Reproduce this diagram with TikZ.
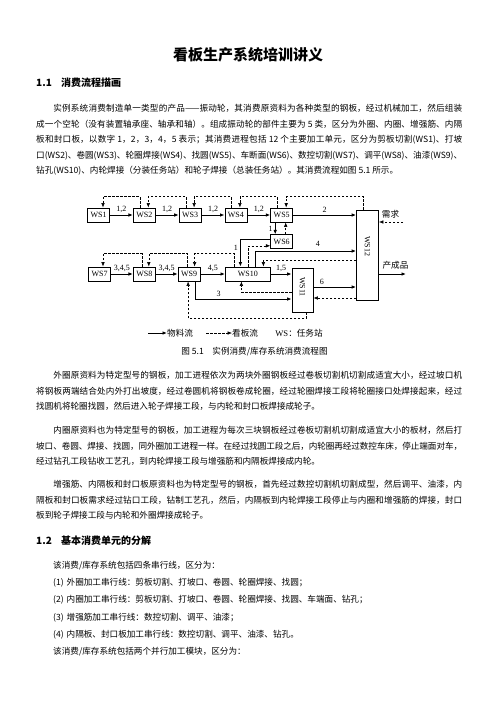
\documentclass[tikz,border=0pt]{standalone}
\usepackage{fontspec}
\setmainfont{Liberation Serif}
\newfontfamily\cjk{Noto Sans CJK SC}
\usetikzlibrary{arrows.meta,positioning}
\XeTeXlinebreaklocale "zh"
\XeTeXlinebreakskip=0pt plus 1pt minus 0.3pt
\newcommand*{\bodyfont}{\cjk\fontsize{8.6}{15.5}\selectfont}

\begin{document}
\begin{tikzpicture}[x=1pt, y=-1pt, auto, >={Latex[length=4.5pt,width=3.6pt]},
  station/.style={draw, line width=0.8pt, minimum width=22pt, minimum height=14pt, inner sep=0pt, font=\fontsize{8}{9}\selectfont},
  flow/.style={->, line width=1pt},
  kanban/.style={->, line width=0.6pt, dash pattern=on 2.5pt off 1.5pt},
  num/.style={font=\fontsize{8}{9}\selectfont, inner sep=2pt},
  zh/.style={font=\cjk\fontsize{8.6}{10}\selectfont, inner sep=0pt},
  para/.style={anchor=base west, inner sep=0pt, text width=426pt, align=justify, font=\bodyfont},
  heading/.style={anchor=west, inner sep=0pt, font=\cjk\bfseries\fontsize{10}{12}\selectfont}]
\useasboundingbox (0,0) rectangle (496,702);
\fill[white] (0,0) rectangle (496,702);

% text above the chart
\node[font=\cjk\bfseries\fontsize{15}{18}\selectfont] (title) at (248,55) {看板生产系统培训讲义};
\node[heading] (sec1) at (36,83) {\makebox[25pt][l]{1.1}消费流程描画};
\node[para] (para1) at (36,111.5) {\hspace*{2em}实例系统消费制造单一类型的产品——振动轮，其消费原资料为各种类型的钢板，经过机械加工，然后组装\linebreak
成一个空轮（没有装置轴承座、轴承和轴）。组成振动轮的部件主要为 5 类，区分为外圈、内圈、增强筋、内隔\linebreak
板和封口板，以数字 1，2，3，4，5 表示；其消费进程包括 12 个主要加工单元，区分为剪板切割(WS1)、打坡\linebreak
口(WS2)、卷圆(WS3)、轮圈焊接(WS4)、找圆(WS5)、车断面(WS6)、数控切割(WS7)、调平(WS8)、油漆(WS9)、\linebreak
钻孔(WS10)、内轮焊接（分装任务站）和轮子焊接（总装任务站）。其消费流程如图 5.1 所示。};

% stations
\node[station]    (WS1)  at (98.5,215)           {WS1};
\node[station]    (WS2)  [right=23pt of WS1]     {WS2};
\node[station]    (WS3)  [right=23pt of WS2]     {WS3};
\node[station]    (WS4)  [right=23pt of WS3]     {WS4};
\node[station]    (WS5)  [right=23pt of WS4]     {WS5};
\node[station]    (WS6)  [below=12pt of WS5]     {WS6};
\node[station]    (WS7)  at (99.5,274)           {WS7};
\node[station]    (WS8)  [right=22pt of WS7]     {WS8};
\node[station]    (WS9)  [right=22pt of WS8]     {WS9};
\node[station, minimum width=45pt] (WS10) [right=24.5pt of WS9] {WS10};
\node[station, minimum width=21pt, minimum height=44pt] (WS11) at (302.5,290) {};
\node[station, minimum height=90pt] (WS12) at (367.5,255) {};
\node[num, rotate=-90] (WS11name) at ([yshift=3pt]WS11.center) {WS11};
\node[num, rotate=-90] (WS12name) at ([yshift=9pt]WS12.center) {WS12};

% material flow
\path[flow]
(WS1) edge node[num]{1,2}   (WS2)
(WS2) edge node[num]{1,2}   (WS3)
(WS3) edge node[num]{1,2}   (WS4)
(WS4) edge node[num]{1,2}   (WS5)
(WS7) edge node[num]{3,4,5} (WS8)
(WS8) edge node[num]{3,4,5} (WS9)
(WS9) edge node[num]{4,5}   (WS10);
\draw[flow] (WS5) -- node[num]{2} (WS5 -| WS12.west);
\draw[flow] ([xshift=-6.5pt]WS5.south) -- node[num, left]{1} ([xshift=-6.5pt]WS6.north);
\draw[flow] ([yshift=2pt]WS6.west) -| node[num, pos=0.65, left]{1} ([xshift=-7.5pt]WS10.north);
\draw[flow] ([xshift=7.5pt]WS10.north) |- node[num, pos=0.81, fill=white, minimum width=21pt, minimum height=9pt, yshift=2.5pt]{4} ([yshift=4pt]WS12.west);
\draw[flow] (WS10) -- node[num]{1,5} (WS10 -| WS11.west);
\draw[flow] ([xshift=6.5pt]WS9.south) |- node[num, pos=0.62]{3} ([yshift=-9pt]WS11.west);
\draw[flow] ([yshift=3pt]WS11.east) -- node[num, pos=0.2]{6} ([yshift=3pt]WS11.east -| WS12.west);

% kanban flow
\draw[kanban] ([xshift=-4.5pt]WS2.north) -- ++(0,-11) -| ([xshift=4.5pt]WS1.north);
\draw[kanban] ([xshift=-4pt]WS3.north) -- ++(0,-11) -| ([xshift=4pt]WS2.north);
\draw[kanban] ([xshift=-4.5pt]WS4.north) -- ++(0,-11) -| ([xshift=4pt]WS3.north);
\draw[kanban] ([xshift=-4.5pt]WS5.north) -- ++(0,-11) -| ([xshift=4pt]WS4.north);
\draw[kanban] ([xshift=-4.5pt]WS12.north) -- ++(0,-13) -| ([xshift=4.5pt]WS5.north);
\draw[kanban] ([xshift=4pt]WS6.north) -- ([xshift=4pt]WS5.south);
\draw[kanban] ([xshift=-2.5pt]WS8.north) -- ++(0,-13) -| ([xshift=3.5pt]WS7.north);
\draw[kanban] ([xshift=-1.5pt]WS9.north) -- ++(0,-13) -| ([xshift=4.5pt]WS8.north);
\draw[kanban] ([xshift=-13.5pt]WS10.north) -- ++(0,-13) -| ([xshift=5.5pt]WS9.north);
\draw[kanban] ([xshift=0.5pt]WS10.north) |- ([yshift=-4pt]WS6.west);
\draw[kanban] ([yshift=-5pt]WS12.west) -| ([xshift=15.5pt]WS10.north);
\draw[kanban] ([yshift=-2pt]WS11.west) -| ([xshift=-6.5pt]WS10.south);
\draw[kanban] ([xshift=3.5pt]WS11.south) -- ++(0,6) -| ([xshift=-1pt]WS9.south);
\draw[kanban] ([yshift=-8pt]WS11.east -| WS12.west) -- ([yshift=-8pt]WS11.east);

% demand and output
\coordinate (demand) at (403,222);
\coordinate (product) at (406,274);
\node[zh] (demandname) at (390.5,214) {需求};
\node[zh] (productname) at (395.5,265) {产成品};
\draw[kanban] (demand) -- (demand -| WS12.east);
\draw[flow] (product -| WS12.east) -- (product);

% legend and caption
\coordinate (solidA) at (148,333);
\coordinate (solidB) at (167,333);
\coordinate (dashA) at (206,333);
\coordinate (dashB) at (232,333);
\draw[flow] (solidA) -- (solidB);
\draw[kanban] (dashA) -- (dashB);
\node[zh, right=0pt of solidB] (flowkey) {物料流};
\node[zh, right=0pt of dashB] (kanbankey) {看板流};
\node[zh] (wskey) at (299,333) {\rmfamily WS\cjk：任务站};
\node[zh] (caption) at (254.5,352) {图 5.1\quad 实例消费/库存系统消费流程图};

% text below the chart
\node[para] (para2) at (36,378.5) {\hspace*{2em}外圈原资料为特定型号的钢板，加工进程依次为两块外圈钢板经过卷板切割机切割成适宜大小，经过坡口机\linebreak
将钢板两端结合处内外打出坡度，经过卷圆机将钢板卷成轮圈，经过轮圈焊接工段将轮圈接口处焊接起来，经过\linebreak
找圆机将轮圈找圆，然后进入轮子焊接工段，与内轮和封口板焊接成轮子。};
\node[para] (para3) at (36,433.5) {\hspace*{2em}内圈原资料也为特定型号的钢板，加工进程为每次三块钢板经过卷板切割机切割成适宜大小的板材，然后打\linebreak
坡口、卷圆、焊接、找圆，同外圈加工进程一样。在经过找圆工段之后，内轮圈再经过数控车床，停止端面对车，\linebreak
经过钻孔工段钻收工艺孔，到内轮焊接工段与增强筋和内隔板焊接成内轮。};
\node[para] (para4) at (36,487.5) {\hspace*{2em}增强筋、内隔板和封口板原资料也为特定型号的钢板，首先经过数控切割机切割成型，然后调平、油漆，内\linebreak
隔板和封口板需求经过钻口工段，钻制工艺孔，然后，内隔板到内轮焊接工段停止与内圈和增强筋的焊接，封口\linebreak
板到轮子焊接工段与内轮和外圈焊接成轮子。};
\node[heading] (sec2) at (36,541) {\makebox[25pt][l]{1.2}基本消费单元的分解};
\node[anchor=base west, inner sep=0pt, text width=409pt, align=left, font=\cjk\fontsize{8.6}{17.2}\selectfont] (lines) at (53,568.5)
{该消费/库存系统包括四条串行线，区分为：\\
(1) 外圈加工串行线：剪板切割、打坡口、卷圆、轮圈焊接、找圆；\\
(2) 内圈加工串行线：剪板切割、打坡口、卷圆、轮圈焊接、找圆、车端面、钻孔；\\
(3) 增强筋加工串行线：数控切割、调平、油漆；\\
(4) 内隔板、封口板加工串行线：数控切割、调平、油漆、钻孔。\\
该消费/库存系统包括两个并行加工模块，区分为：};
\end{tikzpicture}
\end{document}
